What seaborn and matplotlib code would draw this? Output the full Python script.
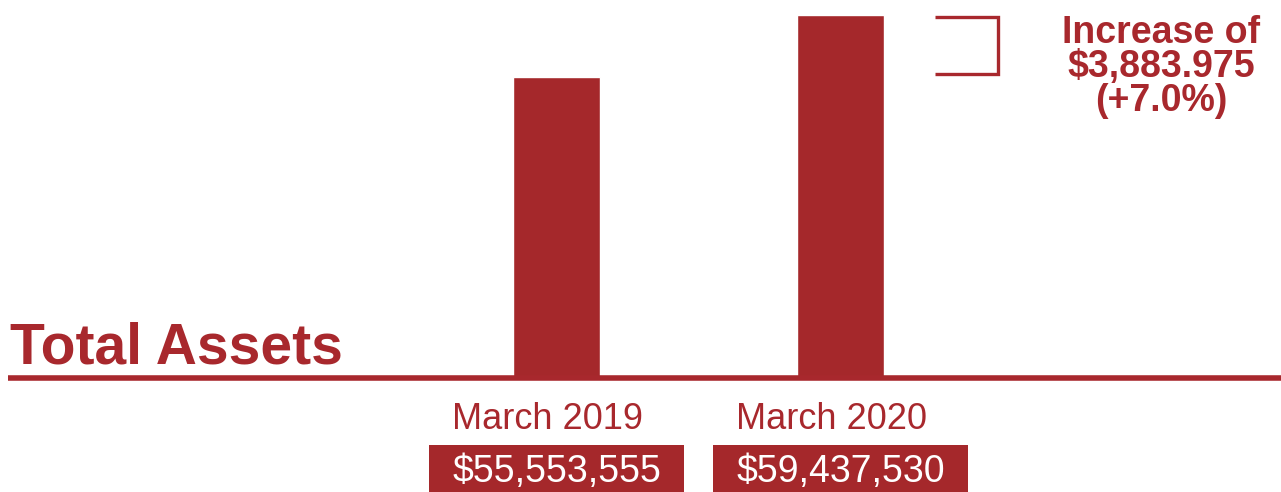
import matplotlib
matplotlib.use("Agg")
import matplotlib.pyplot as plt
import seaborn as sns
import pandas as pd
from matplotlib.patches import Rectangle
from matplotlib.transforms import blended_transform_factory

# ---- data ----
categories = ["March 2019", "March 2020"]
values = [55553555, 59437530]
title = "Total Assets"
increase_lines = ["Increase of", "$3,883.975", "(+7.0%)"]

RED = "#A8282D"
BAR = "#A5282B"

sns.set_theme(style="white")
plt.rcParams["font.family"] = ["Liberation Sans", "DejaVu Sans"]

W, H = 1281, 492
fig = plt.figure(figsize=(W / 100, H / 100), dpi=100)

# axes in pixel geometry: left at 8px, baseline at 378px from top
ax_left, ax_right, base_y = 8, 1281, 378
ax = fig.add_axes([ax_left / W, (H - base_y) / H, (ax_right - ax_left) / W, base_y / H])

df = pd.DataFrame({"period": categories, "assets": values})
sns.barplot(data=df, x="period", y="assets", color=BAR, width=0.306,
            saturation=1, ax=ax, zorder=2)

spacing = 284.0  # px between bar centers
c0 = 556.5
ax.set_xlim(-(c0 - ax_left) / spacing, (ax_right - c0) / spacing)
ymin, ymax = 36.70e6, 60.38e6
ax.set_ylim(ymin, ymax)

for s in ["top", "left", "right"]:
    ax.spines[s].set_visible(False)
ax.spines["bottom"].set_color(RED)
ax.spines["bottom"].set_linewidth(4.0)
ax.spines["bottom"].set_capstyle("butt")
ax.set_xticks([])
ax.set_yticks([])
ax.set_xlabel("")
ax.set_ylabel("")

# title
fig.text(10 / W, (H - 364) / H, title, fontsize=41, fontweight="bold",
         color=RED, ha="left", va="baseline")

# category labels and value boxes
tx = blended_transform_factory(ax.transData, fig.transFigure)
box_w = 255 / spacing
for i, (cat, v) in enumerate(zip(categories, values)):
    ax.text(i - 0.03, (H - 429) / H, cat, transform=tx, fontsize=26,
            color=RED, ha="center", va="baseline", clip_on=False)
    fig.patches.append(Rectangle((i - box_w / 2, -0.05), box_w,
                                 (H - 445) / H + 0.05, transform=tx,
                                 facecolor=BAR, edgecolor="none",
                                 figure=fig))
    fig.text(0, (H - 482) / H, f"${v:,}", transform=tx, fontsize=27,
             color="white", ha="center", va="baseline")
    fig.texts[-1].set_x(i)

# bracket between bar tops
bx0 = 1 + (935 - 840.5) / spacing
bx1 = 1 + (998 - 840.5) / spacing
ytop = values[1] - 2 * (ymax - ymin) / base_y
ybot = values[0] + 3 * (ymax - ymin) / base_y
ax.plot([bx0, bx1, bx1, bx0], [ytop, ytop, ybot, ybot], color=RED,
        lw=2.4, solid_joinstyle="miter", solid_capstyle="butt",
        clip_on=False, zorder=3)

# increase annotation
baselines = [43, 77, 111]
for line, b in zip(increase_lines, baselines):
    fig.text(1161 / W, (H - b) / H, line, fontsize=27, fontweight="bold",
             color=RED, ha="center", va="baseline")

fig.savefig("out.png", dpi=100, facecolor="white")
